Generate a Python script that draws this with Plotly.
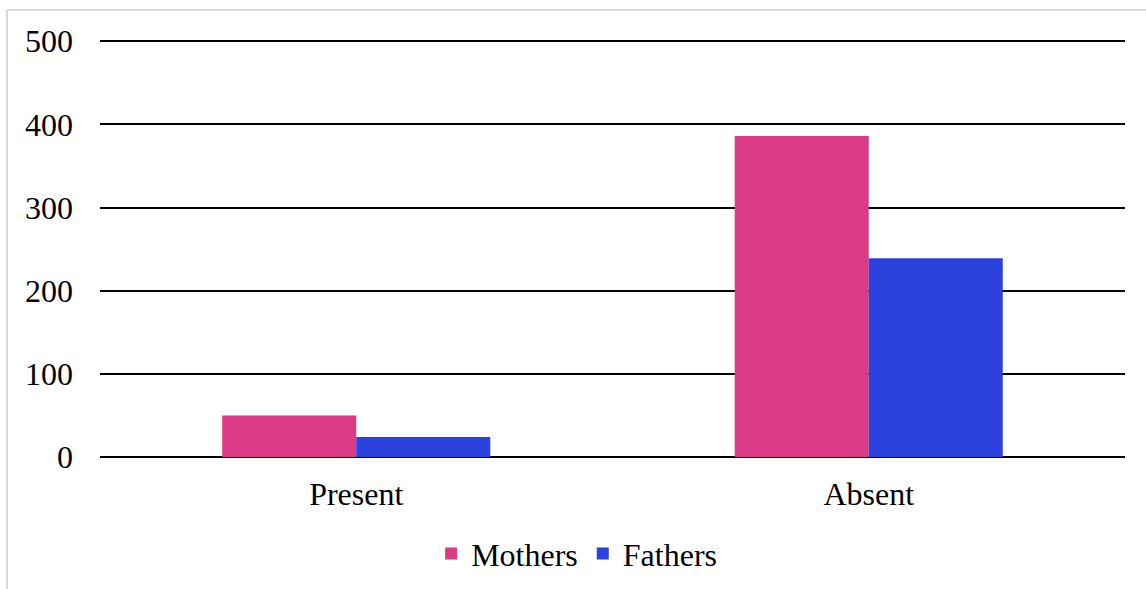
import plotly.graph_objects as go

categories = ["Present", "Absent"]
mothers = [50, 386]
fathers = [24, 239]
y_ticks = [0, 100, 200, 300, 400, 500]

W, H = 1146, 589
L, R, T, B = 100, 21, 37, 132
font = dict(family="Liberation Serif, Times New Roman, serif", size=32, color="black")

fig = go.Figure()
fig.add_trace(go.Bar(name="Mothers", x=categories, y=mothers, marker=dict(color="#DB3B86", line=dict(width=0))))
fig.add_trace(go.Bar(name="Fathers", x=categories, y=fathers, marker=dict(color="#2B41DD", line=dict(width=0))))


def px_x(p):
    return (p - L) / (W - L - R)


def px_y(p):
    return (H - B - p) / (H - T - B)


# light frame around the chart area (open at right and bottom)
frame = dict(color="#d9d9d9", width=2)
shapes = [
    dict(type="line", xref="paper", yref="paper", x0=px_x(7), x1=px_x(W + 5), y0=px_y(10), y1=px_y(10), line=frame),
    dict(type="line", xref="paper", yref="paper", x0=px_x(7), x1=px_x(7), y0=px_y(10), y1=px_y(H + 5), line=frame),
]

fig.update_layout(
    width=W, height=H,
    margin=dict(l=L, r=R, t=T, b=B, autoexpand=False),
    paper_bgcolor="white", plot_bgcolor="white",
    font=font,
    barmode="group", bargap=0.477, bargroupgap=0,
    showlegend=True,
    legend=dict(orientation="h", x=0.465, xanchor="center", y=-0.165, yanchor="top",
                font=font, itemwidth=30, traceorder="normal"),
    shapes=shapes,
)
fig.update_yaxes(range=[0, 505], tickvals=y_ticks, showgrid=True, gridcolor="black", gridwidth=1.5,
                 zeroline=True, zerolinecolor="black", zerolinewidth=1.5, showline=False,
                 ticks="", ticklabelstandoff=26, tickfont=font, automargin=False, fixedrange=True)
fig.update_xaxes(showgrid=False, showline=False, ticks="", ticklabelstandoff=15, tickfont=font,
                 automargin=False)

fig.write_html("out.html")
